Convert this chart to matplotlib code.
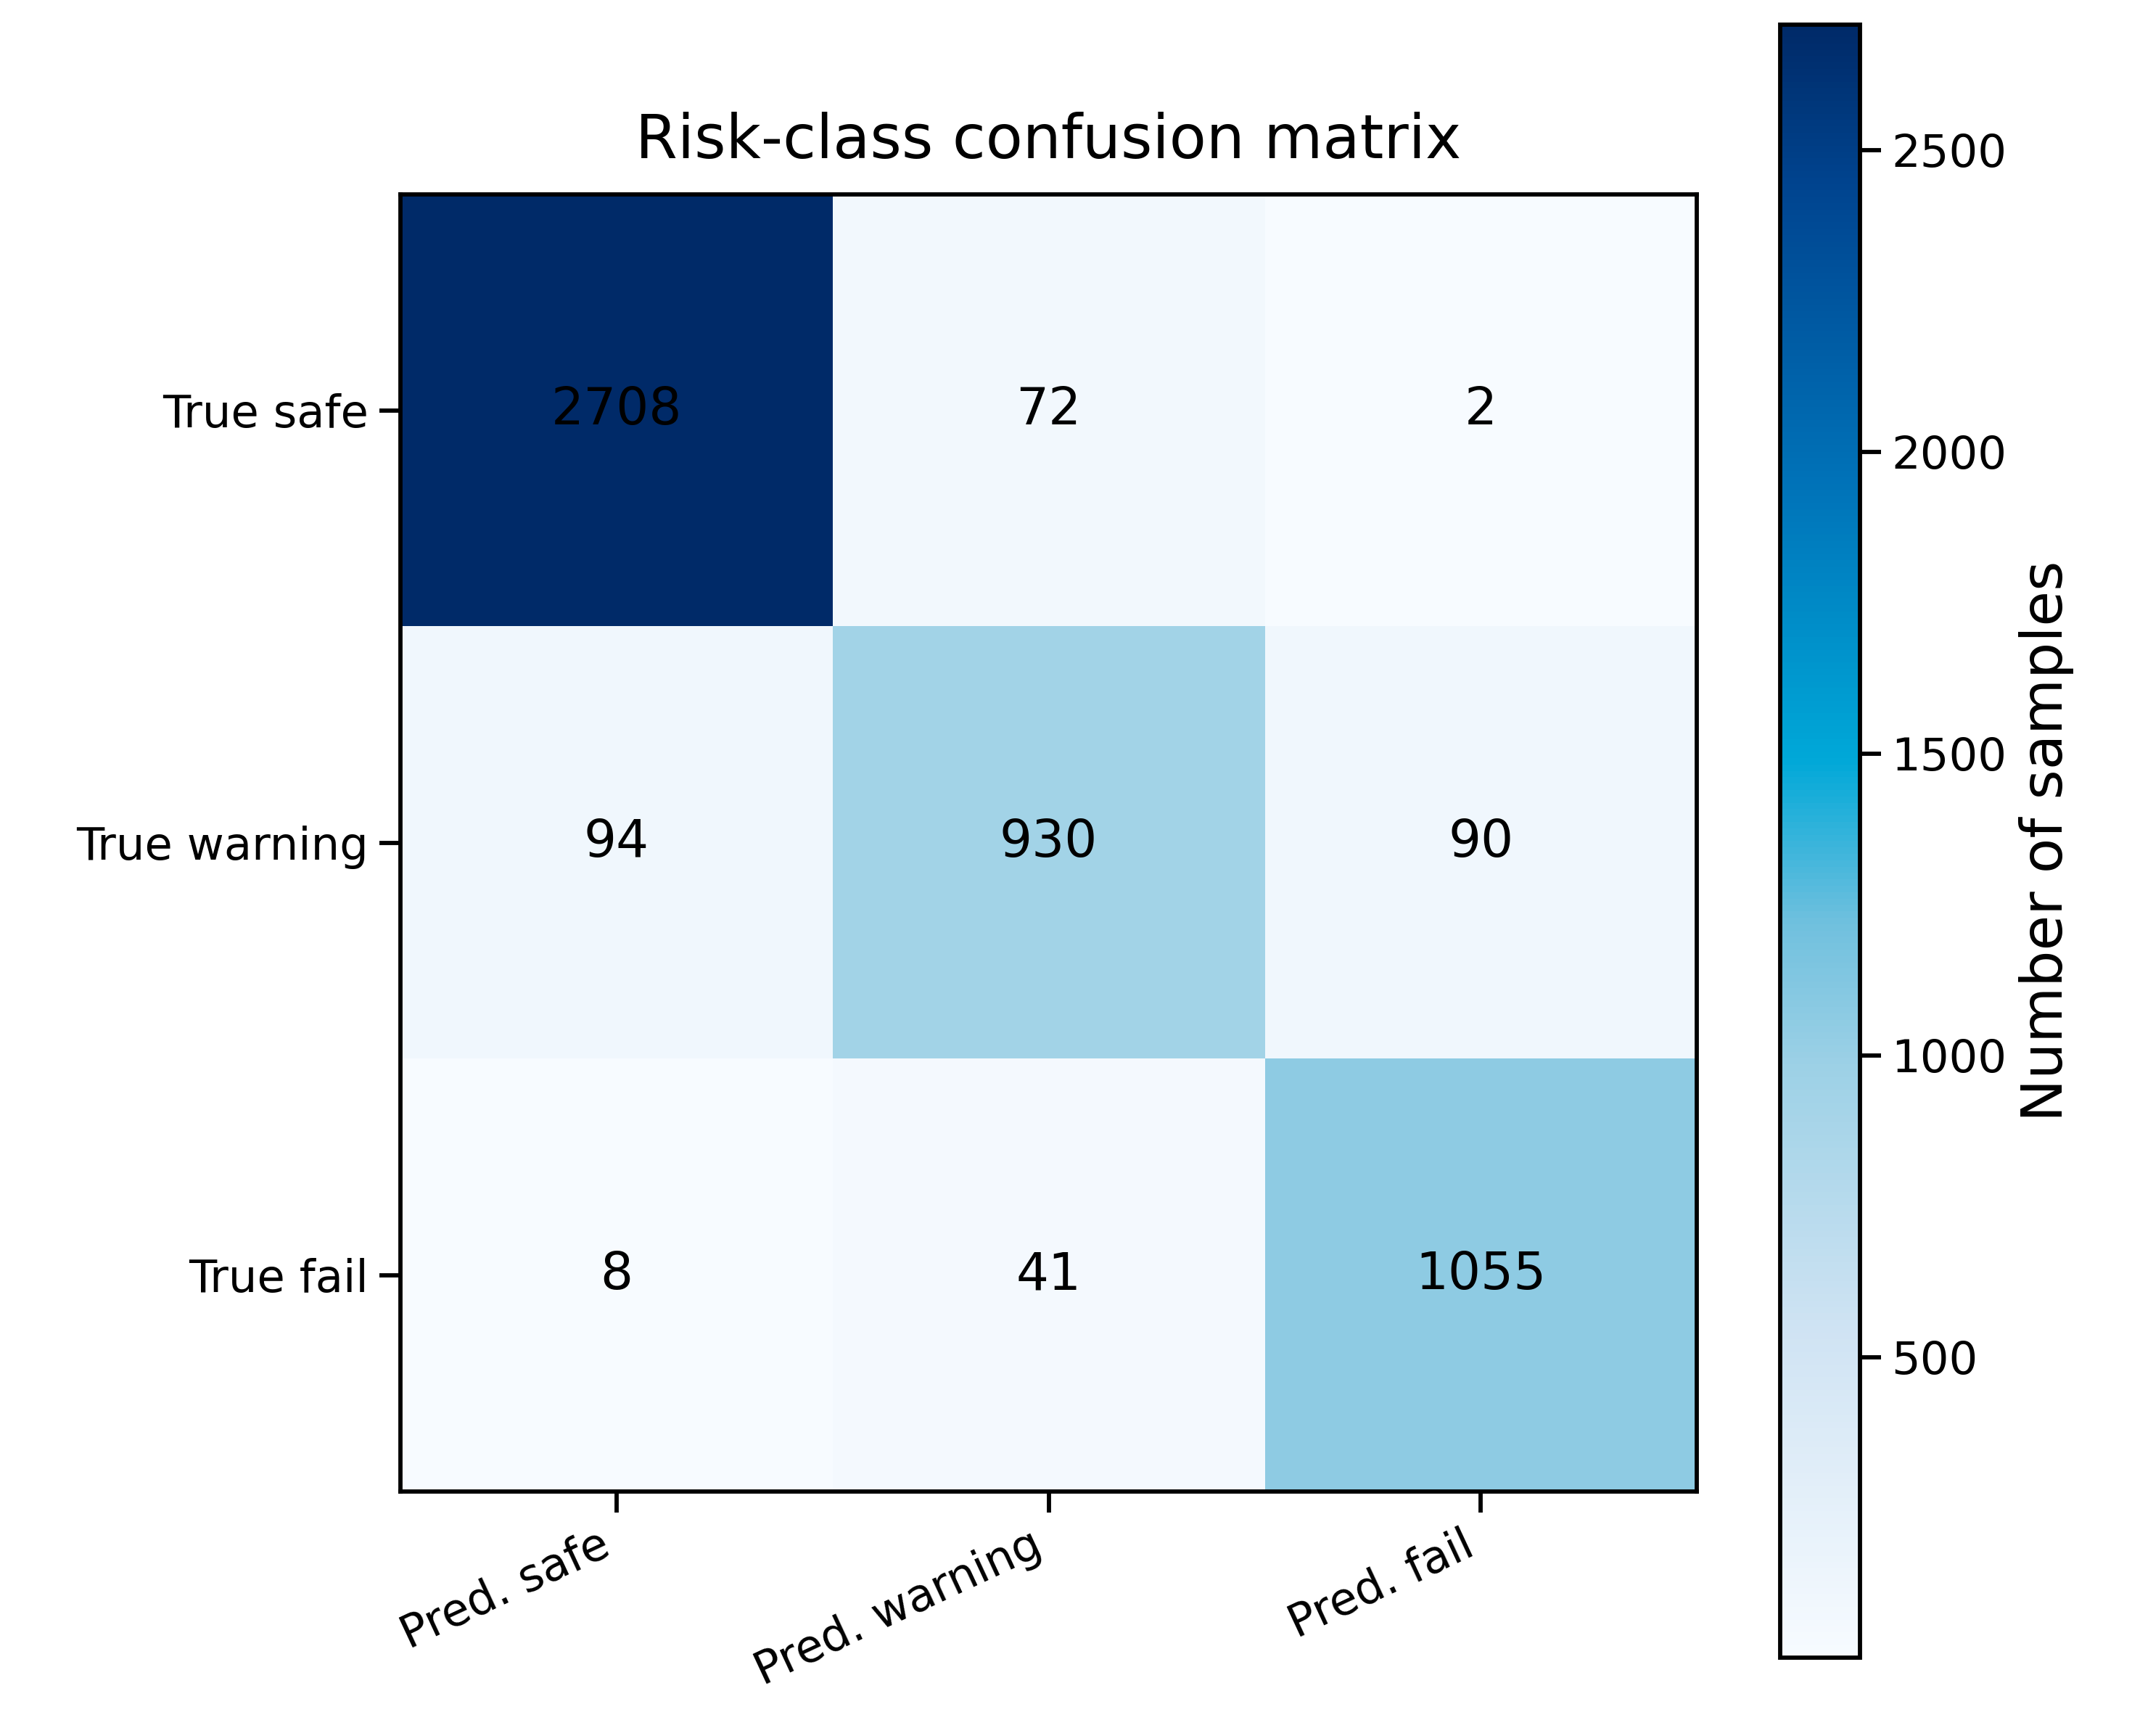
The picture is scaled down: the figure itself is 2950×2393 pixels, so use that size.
import numpy as np
import matplotlib.pyplot as plt
from matplotlib.colors import LinearSegmentedColormap

true_labels = ["True safe", "True warning", "True fail"]
pred_labels = ["Pred. safe", "Pred. warning", "Pred. fail"]
counts = np.array([[2708, 72, 2],
                   [94, 930, 90],
                   [8, 41, 1055]])

# more saturated blues, as in the reference
cmap = LinearSegmentedColormap.from_list(
    "satblues",
    [(0.0, "#f7fbff"), (0.2, "#cfe3f3"), (0.36, "#9dd1e6"), (0.45, "#6fc0de"),
     (0.55, "#00a8d8"), (0.72, "#0072b8"), (0.9, "#004590"), (1.0, "#002a68")])

fig = plt.figure(figsize=(2950 / 300, 2393 / 300), dpi=300)
ax = fig.add_axes([0.187, 0.141, 0.606, 0.747])
cax = fig.add_axes([0.832, 0.045, 0.037, 0.941])

im = ax.imshow(counts, cmap=cmap, vmin=counts.min(), vmax=counts.max())
for i in range(3):
    for j in range(3):
        ax.text(j, i, str(counts[i, j]), ha="center", va="center", fontsize=17, color="black")

ax.set_xticks(range(3))
ax.set_xticklabels(pred_labels, rotation=25, ha="right", fontsize=15)
ax.set_yticks(range(3))
ax.set_yticklabels(true_labels, fontsize=15)
ax.tick_params(length=7, width=1.4)
for s in ax.spines.values():
    s.set_linewidth(1.4)
ax.set_title("Risk-class confusion matrix", fontsize=20, pad=12)

cb = fig.colorbar(im, cax=cax)
cb.set_ticks([500, 1000, 1500, 2000, 2500])
cb.ax.tick_params(labelsize=15, length=7, width=1.4)
cb.outline.set_linewidth(1.4)
cb.set_label("Number of samples", fontsize=19)

fig.savefig("out.png", dpi=300)
